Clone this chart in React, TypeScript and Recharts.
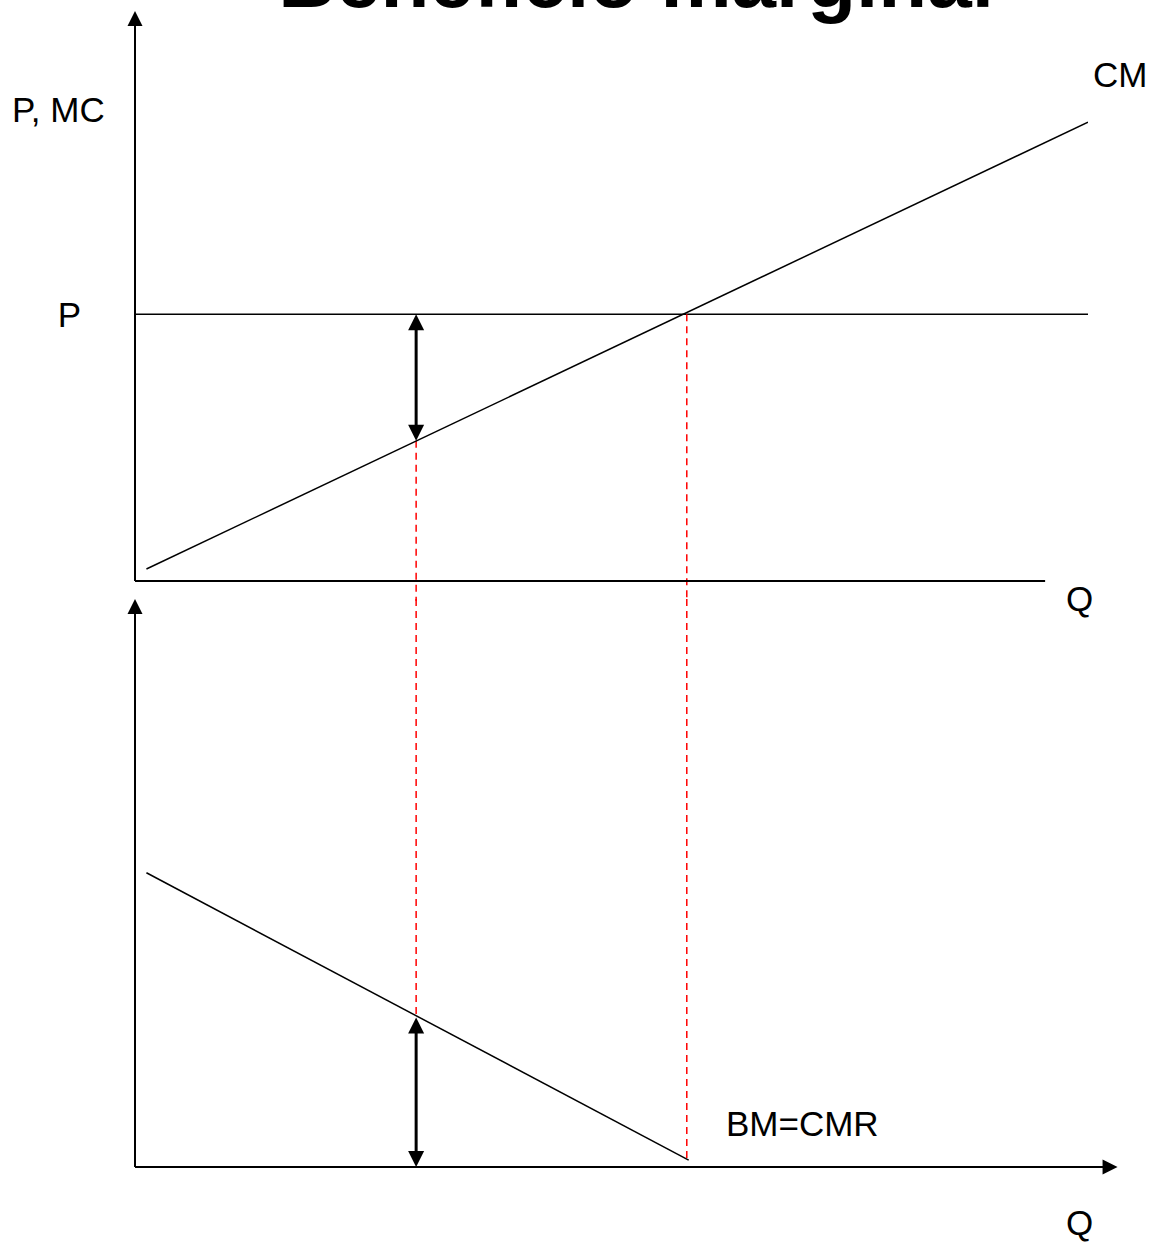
import { ComposedChart, Line, XAxis, YAxis, ReferenceLine } from 'recharts'

// values (Q on a 0..10 scale, P/MC and BM on 0..10 scales)
const CM_Q = [0.12, 10]
const CM_VALUES = [0.21, 8.05]
const BM_Q = [0.12, 5.81]
const BM_VALUES = [5.18, 0.12]
const PRICE = 4.68
const Q_OPT = 5.79
const Q_LOW = 2.95
const CM_AT_Q_LOW = 2.46
const BM_AT_Q_LOW = 2.63
const AXIS_TOP = 10
const TOP_Q_AXIS_END = 9.55
const BOTTOM_Q_AXIS_END = 10.31
const BELOW_AXIS = -0.35

const W = 1157
const H = 1245
const FONT = '"Liberation Sans", Arial, sans-serif'

const cmData = CM_Q.map((q, i) => ({ q, v: CM_VALUES[i] }))
const bmData = BM_Q.map((q, i) => ({ q, v: BM_VALUES[i] }))

function head(x: number, y: number, ang: number, len: number, half: number) {
  const bx = x - Math.cos(ang) * len
  const by = y - Math.sin(ang) * len
  const nx = -Math.sin(ang) * half
  const ny = Math.cos(ang) * half
  return `${x},${y} ${bx + nx},${by + ny} ${bx - nx},${by - ny}`
}

// single arrow (axis): head at the second point
const AxisArrow = (props: any) => {
  const { x1, y1, x2, y2 } = props
  const ang = Math.atan2(y2 - y1, x2 - x1)
  return (
    <g>
      <line x1={x1} y1={y1} x2={x2 - Math.cos(ang) * 10} y2={y2 - Math.sin(ang) * 10} stroke="#000" strokeWidth={2} />
      <polygon points={head(x2, y2, ang, 15, 7.5)} fill="#000" />
    </g>
  )
}

const DoubleArrow = (props: any) => {
  const { x1, y1, x2, y2 } = props
  const ang = Math.atan2(y2 - y1, x2 - x1)
  const back = Math.atan2(y1 - y2, x1 - x2)
  return (
    <g>
      <line
        x1={x1 + Math.cos(ang) * 12}
        y1={y1 + Math.sin(ang) * 12}
        x2={x2 - Math.cos(ang) * 12}
        y2={y2 - Math.sin(ang) * 12}
        stroke="#000"
        strokeWidth={3}
      />
      <polygon points={head(x2, y2, ang, 16, 8)} fill="#000" />
      <polygon points={head(x1, y1, back, 16, 8)} fill="#000" />
    </g>
  )
}

const dashed = { stroke: '#ff0000', strokeWidth: 1.5, strokeDasharray: '7 5' }
const labelStyle = { fontFamily: FONT, fontSize: 35, fill: '#000' }

export default function App() {
  return (
    <div style={{ position: 'absolute', left: 0, top: 0, width: W, height: H, background: '#fff' }}>
      {/* upper panel: P, MC */}
      <div style={{ position: 'absolute', left: 0, top: 0 }}>
        <ComposedChart width={W} height={H} margin={{ top: 11, right: 69, bottom: 664, left: 0 }}>
          <XAxis type="number" dataKey="q" domain={[0, 10]} allowDataOverflow hide />
          <YAxis
            type="number"
            domain={[0, AXIS_TOP]}
            allowDataOverflow
            width={135}
            ticks={[PRICE]}
            tickFormatter={() => 'P'}
            axisLine={false}
            tickLine={false}
            tickMargin={48}
            tick={{ fontSize: 35, fill: '#000', fontFamily: FONT }}
          />
          <ReferenceLine y={PRICE} stroke="#000" strokeWidth={1.5} />
          <ReferenceLine segment={[{ x: Q_OPT, y: PRICE }, { x: Q_OPT, y: BELOW_AXIS }]} ifOverflow="visible" {...dashed} />
          <ReferenceLine segment={[{ x: Q_LOW, y: CM_AT_Q_LOW }, { x: Q_LOW, y: BELOW_AXIS }]} ifOverflow="visible" {...dashed} />
          <ReferenceLine segment={[{ x: 0, y: 0 }, { x: 0, y: AXIS_TOP }]} ifOverflow="visible" shape={AxisArrow} />
          <ReferenceLine segment={[{ x: 0, y: 0 }, { x: TOP_Q_AXIS_END, y: 0 }]} ifOverflow="visible" stroke="#000" strokeWidth={2} />
          <ReferenceLine segment={[{ x: Q_LOW, y: PRICE }, { x: Q_LOW, y: CM_AT_Q_LOW }]} ifOverflow="visible" shape={DoubleArrow} />
          <Line data={cmData} dataKey="v" type="linear" stroke="#000" strokeWidth={1.5} dot={false} isAnimationActive={false} />
          <text x={636} y={7} textAnchor="middle" style={{ fontFamily: FONT, fontSize: 80, fontWeight: 'bold', fill: '#000' }}>
            Beneficio marginal
          </text>
          <text x={12} y={122} style={labelStyle}>P, MC</text>
          <text x={1093} y={87} style={labelStyle}>CM</text>
          <text x={1066} y={611} style={labelStyle}>Q</text>
        </ComposedChart>
      </div>

      {/* lower panel: marginal benefit */}
      <div style={{ position: 'absolute', left: 0, top: 0 }}>
        <ComposedChart width={W} height={H} margin={{ top: 599, right: 69, bottom: 78, left: 135 }}>
          <XAxis type="number" dataKey="q" domain={[0, 10]} allowDataOverflow hide />
          <YAxis type="number" domain={[0, AXIS_TOP]} allowDataOverflow hide />
          <ReferenceLine segment={[{ x: Q_OPT, y: AXIS_TOP }, { x: Q_OPT, y: BM_VALUES[1] }]} ifOverflow="visible" {...dashed} />
          <ReferenceLine segment={[{ x: Q_LOW, y: AXIS_TOP }, { x: Q_LOW, y: BM_AT_Q_LOW }]} ifOverflow="visible" {...dashed} />
          <ReferenceLine segment={[{ x: 0, y: 0 }, { x: 0, y: AXIS_TOP }]} ifOverflow="visible" shape={AxisArrow} />
          <ReferenceLine segment={[{ x: 0, y: 0 }, { x: BOTTOM_Q_AXIS_END, y: 0 }]} ifOverflow="visible" shape={AxisArrow} />
          <ReferenceLine segment={[{ x: Q_LOW, y: BM_AT_Q_LOW }, { x: Q_LOW, y: 0 }]} ifOverflow="visible" shape={DoubleArrow} />
          <Line data={bmData} dataKey="v" type="linear" stroke="#000" strokeWidth={1.5} dot={false} isAnimationActive={false} />
          <text x={726} y={1136} style={labelStyle}>BM=CMR</text>
          <text x={1066} y={1235} style={labelStyle}>Q</text>
        </ComposedChart>
      </div>
    </div>
  )
}
